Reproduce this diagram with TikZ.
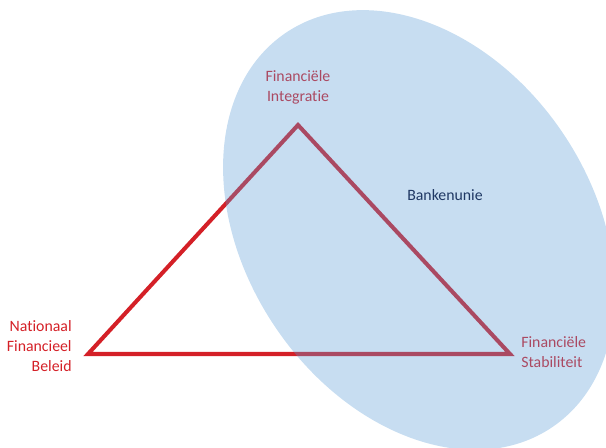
\documentclass[tikz,border=0pt]{standalone}
\usepackage{fontspec}
\setmainfont{Carlito}[Ligatures=CommonOff]
\usepackage{xcolor}
\usepackage{tikz}
\usetikzlibrary{positioning}
\definecolor{trired}{HTML}{D42027}
\definecolor{unieblue}{HTML}{5B9BD5}
\definecolor{unienavy}{HTML}{1F3864}

\begin{document}
\begin{tikzpicture}[
    x=0.02cm, y=-0.02cm,
    lbl/.style={font=\fontsize{9}{11.3}\selectfont, text=trired, inner sep=0pt},
    side/.style={draw=trired, line width=2.3pt, line join=miter}
]
\useasboundingbox (0,0) rectangle (606,447);
\clip (0,0) rectangle (606,447);

\coordinate (I) at (298,125);
\coordinate (N) at (88,354);
\coordinate (S) at (510,354);

\node[lbl, align=center] (integratie) at (298,87) {Financiële\\Integratie};
\node[lbl, align=right, anchor=east] (nationaal) at (72,346) {Nationaal\\Financieel\\Beleid};
\node[lbl, align=left, anchor=west] (stabiliteit) at (521,352) {Financiële\\Stabiliteit};

\draw[side] (I) -- (N) -- (S) -- cycle;

% bankenunie, drawn over the triangle
\coordinate (M) at (419,230);
\fill[unieblue, opacity=0.34, rotate around={-56:(M)}] (M) ellipse [x radius=4.76cm, y radius=3.47cm];

\node[lbl, text=unienavy] (bankenunie) at (445,195) {Bankenunie};
\end{tikzpicture}
\end{document}
